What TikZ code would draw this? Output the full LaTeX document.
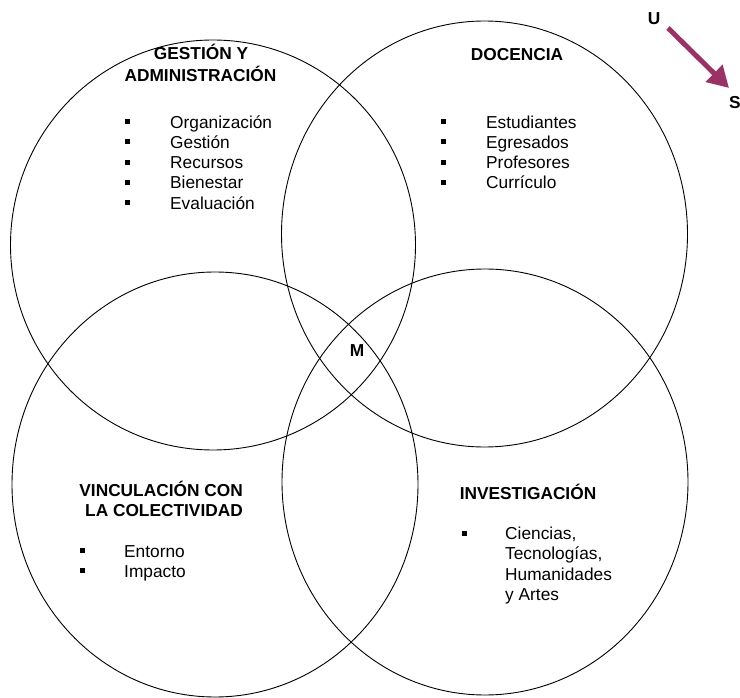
\documentclass[tikz,border=0pt]{standalone}
\usepackage{fontspec}
\setmainfont{Liberation Sans}
\usetikzlibrary{arrows.meta}
\definecolor{plum}{RGB}{153,51,102}
\begin{document}
\begin{tikzpicture}[x=1pt,y=-1pt,
  circ/.style={draw=black,line width=0.9pt},
  txt/.style={inner sep=0pt,anchor=base west,font=\fontsize{17.3}{20.3}\selectfont},
  head/.style={inner sep=0pt,anchor=base,font=\fontsize{17.3}{20.3}\selectfont\bfseries},
  bul/.style={rectangle,fill=black,minimum size=5pt,inner sep=0pt},
  arr/.style={draw=plum,line width=5pt,-{Triangle[length=21pt,width=23pt]}}]
\useasboundingbox (0,0) rectangle (740,698);
% circles
\draw[circ] (213,245) ellipse [x radius=202.5pt, y radius=205pt];
\draw[circ] (484.5,234) ellipse [x radius=203pt, y radius=213pt];
\draw[circ] (215,484.5) ellipse [x radius=203pt, y radius=212.5pt];
\draw[circ] (485,482) ellipse [x radius=203pt, y radius=213pt];
% Gestion
\node[head] (g1) at (201,60) {GESTIÓN Y};
\node[head] (g2) at (200.5,82) {ADMINISTRACIÓN};
\foreach \t [count=\i] in {Organización,Gestión,Recursos,Bienestar,Evaluación}{
  \node[txt] (gt\i) at (170,{128.3+20.2*(\i-1)}) {\t};
  \node[bul] (gb\i) at (127.4,{121.8+20.2*(\i-1)}) {};
}
% Docencia
\node[head] (d1) at (517,61) {DOCENCIA};
\foreach \t [count=\i] in {Estudiantes,Egresados,Profesores,Currículo}{
  \node[txt] (dt\i) at (486,{128.3+20.2*(\i-1)}) {\t};
  \node[bul] (db\i) at (443.6,{121.8+20.2*(\i-1)}) {};
}
% Vinculacion
\node[head,anchor=base east] (v1) at (243,496) {VINCULACIÓN CON};
\node[head,anchor=base east] (v2) at (243,516.5) {LA COLECTIVIDAD};
\foreach \t [count=\i] in {Entorno,Impacto}{
  \node[txt] (vt\i) at (124,{557+20.2*(\i-1)}) {\t};
  \node[bul] (vb\i) at (82.6,{550.5+20.2*(\i-1)}) {};
}
% Investigacion
\node[head] (i0) at (528,499) {INVESTIGACIÓN};
\node[bul] (ib1) at (464,533) {};
\node[txt] (it1) at (505,539.5) {Ciencias,};
\node[txt] (it2) at (505,559.8) {Tecnologías,};
\node[txt] (it3) at (505,580.1) {Humanidades};
\node[txt] (it4) at (505,600.4) {y Artes};
% M
\node[head] (m) at (357,356) {M};
% U -> S
\node[head] (u) at (654,24.3) {U};
\node[head] (s) at (735,109) {S};
\coordinate (a1) at (668,28);
\coordinate (a2) at (729,88);
\draw[arr] (a1) -- (a2);
\end{tikzpicture}
\end{document}
